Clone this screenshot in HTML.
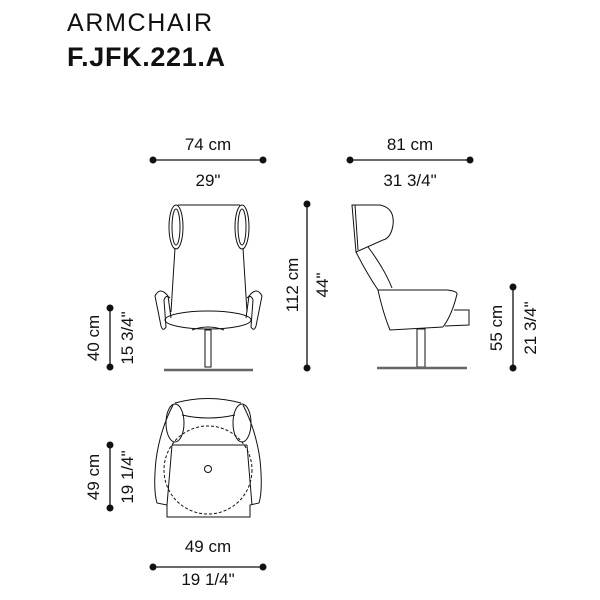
<!DOCTYPE html>
<html><head><meta charset="utf-8"><style>
html,body{margin:0;padding:0;background:#fff;width:600px;height:600px;overflow:hidden}
svg{display:block}
text{font-family:"Liberation Sans",sans-serif;fill:#111}
</style></head><body>
<svg width="600" height="600" viewBox="0 0 600 600" xmlns="http://www.w3.org/2000/svg">
<text x="67" y="31" font-size="25" style="font-weight:300" textLength="145">ARMCHAIR</text>
<text x="67" y="66" font-size="27" font-weight="bold" textLength="158">F.JFK.221.A</text>

<g stroke="#111" stroke-width="1.3" fill="none">
<!-- dim lines -->
<line x1="153" y1="160" x2="263" y2="160"/>
<line x1="350" y1="160" x2="470" y2="160"/>
<line x1="307" y1="204" x2="307" y2="368"/>
<line x1="110" y1="308" x2="110" y2="367"/>
<line x1="513" y1="287" x2="513" y2="368"/>
<line x1="110" y1="445" x2="110" y2="508"/>
<line x1="153" y1="567" x2="263" y2="567"/>
</g>
<g fill="#111">
<circle cx="153" cy="160" r="3.5"/><circle cx="263" cy="160" r="3.5"/>
<circle cx="350" cy="160" r="3.5"/><circle cx="470" cy="160" r="3.5"/>
<circle cx="307" cy="204" r="3.5"/><circle cx="307" cy="368" r="3.5"/>
<circle cx="110" cy="308" r="3.5"/><circle cx="110" cy="367" r="3.5"/>
<circle cx="513" cy="287" r="3.5"/><circle cx="513" cy="368" r="3.5"/>
<circle cx="110" cy="445" r="3.5"/><circle cx="110" cy="508" r="3.5"/>
<circle cx="153" cy="567" r="3.5"/><circle cx="263" cy="567" r="3.5"/>
</g>
<g font-size="17" text-anchor="middle">
<text x="208" y="150">74 cm</text><text x="208" y="186">29"</text>
<text x="410" y="150">81 cm</text><text x="410" y="186">31 3/4"</text>
<text x="208" y="552">49 cm</text><text x="208" y="585">19 1/4"</text>
<text transform="translate(298,285) rotate(-90)">112 cm</text>
<text transform="translate(328,285) rotate(-90)">44"</text>
<text transform="translate(99,338) rotate(-90)">40 cm</text>
<text transform="translate(133,338) rotate(-90)">15 3/4"</text>
<text transform="translate(502,328) rotate(-90)">55 cm</text>
<text transform="translate(536,328) rotate(-90)">21 3/4"</text>
<text transform="translate(99,477) rotate(-90)">49 cm</text>
<text transform="translate(133,477) rotate(-90)">19 1/4"</text>
</g>

<g stroke="#111" stroke-width="1" fill="none">
<!-- front view -->
<line x1="178" y1="205" x2="240" y2="205"/>
<ellipse cx="176" cy="227" rx="7" ry="22"/><ellipse cx="176" cy="227" rx="4" ry="18"/>
<ellipse cx="242" cy="227" rx="7" ry="22"/><ellipse cx="242" cy="227" rx="4" ry="18"/>
<path d="M175 248 L171 312 M243 248 L247 312"/>
<ellipse cx="208" cy="320" rx="43" ry="9"/>
<path d="M171 318 L168 296 Q160 286 155 296 L161 326 Q163 332 166 327 L164 300 Q166 294 170 298"/>
<path d="M246 318 L249 296 Q257 286 262 296 L256 326 Q254 332 251 327 L253 300 Q251 294 247 298"/>
<path d="M192 330 Q208 324 224 330"/>
<rect x="205" y="330" width="6" height="37"/>
<!-- side view -->
<path d="M352 205 L380 205 Q395 208 393 225 Q391 238 383 240 L356 252 L352 205 Z"/>
<path d="M355 205 L358 250"/>
<path d="M356 252 Q366 272 378 290"/>
<path d="M368 247 Q384 268 392 288"/>
<path d="M378 290 L447 290 Q457 291 457 294 Q452 315 443 327"/>
<path d="M378 290 Q383 313 390 330 L443 327"/>
<path d="M454 310 L469 310 L469 325 L445 326"/>
<rect x="417" y="329" width="8" height="38"/>
<!-- top view -->
<path d="M175 403 Q208 394 241 403"/>
<path d="M182 415 Q208 421 235 415"/>
<ellipse cx="175" cy="423" rx="9" ry="19"/>
<ellipse cx="242" cy="423" rx="9" ry="19"/>
<path d="M172 445 L247 445"/>
<path d="M172 445 L167 505 M247 445 L252 505"/>
<path d="M173 405 Q160 430 156 460 Q153 490 157 503 L167 505 L167 517 L250 517 L250 505 L259 503 Q263 490 260 460 Q256 430 243 405"/>
<circle cx="208" cy="470" r="44" stroke-dasharray="3 2"/>
<circle cx="208" cy="469" r="3.5"/>
</g>
<g stroke="#666" stroke-width="2.5">
<line x1="164" y1="370" x2="253" y2="370"/>
<line x1="377" y1="368" x2="467" y2="368"/>
</g>
</svg>
</body></html>
